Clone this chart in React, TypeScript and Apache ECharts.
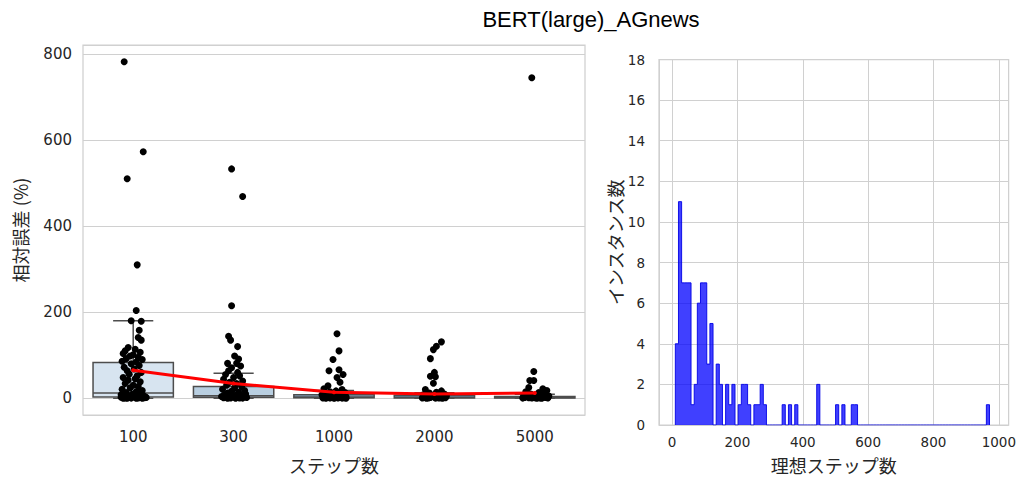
import React, { useEffect, useRef } from "react";
import * as echarts from "echarts";

// ---------- data ----------
const categories = ["100", "300", "1000", "2000", "5000"];
const boxLow = [0, 0, 0, 0, 0];
const boxQ1 = [3, 2, 1, 0.5, 0.3];
const boxMedian = [12, 6, 3, 2, 1.5];
const boxQ3 = [83, 27, 8, 7, 4];
const boxHigh = [180, 58, 18, 13, 9];
const meanValues = [65, 34, 14, 10, 12];

// [jitter (category units), relative error %]
const strip100 = [
  [-0.09, 782], [0.1, 573], [-0.06, 510], [0.04, 310], [0.03, 204], [-0.02, 180], [0.08, 179],
  [0.06, 158], [0.05, 141], [0.08, 135], [-0.05, 118], [0.02, 114], [-0.08, 110], [0.07, 107],
  [-0.1, 104], [0.0, 101], [-0.03, 98], [0.05, 95], [-0.07, 92], [0.09, 90], [-0.11, 86],
  [0.03, 84], [-0.02, 80], [0.06, 76], [-0.09, 72], [0.01, 68], [-0.06, 64], [0.08, 60],
  [-0.04, 56], [0.04, 52], [-0.1, 48], [0.02, 45], [-0.05, 42], [0.07, 38], [-0.08, 34],
  [0.0, 30], [0.05, 27], [-0.03, 24], [-0.11, 21], [0.09, 18], [0.03, 15], [-0.07, 13],
  [0.06, 11], [-0.01, 9], [-0.09, 7], [0.1, 6], [0.04, 5], [-0.05, 4], [0.01, 3], [-0.12, 2.5],
  [0.07, 2], [-0.03, 1.5], [0.11, 1], [-0.08, 0.8], [0.05, 0.5], [-0.02, 0.3], [0.09, 0.2],
  [-0.1, 0.1], [0.03, 0.1], [-0.06, 0.05], [0.12, 3.5], [-0.12, 8], [0.13, 1.8],
];
const strip300 = [
  [-0.02, 533], [0.09, 469], [-0.02, 215], [-0.05, 144], [-0.03, 135], [0.04, 120], [0.01, 98],
  [0.05, 91], [0.03, 81], [-0.06, 81], [0.07, 75], [-0.02, 71], [-0.05, 64], [0.04, 60],
  [-0.08, 55], [0.06, 52], [0.0, 48], [-0.1, 44], [0.09, 40], [-0.04, 37], [0.03, 34],
  [-0.07, 30], [0.08, 27], [0.01, 24], [-0.11, 21], [0.11, 18], [-0.02, 16], [0.05, 14],
  [-0.06, 12], [0.12, 10], [-0.09, 8], [0.02, 7], [0.07, 6], [-0.04, 5], [-0.12, 4], [0.1, 3.5],
  [0.0, 3], [-0.07, 2.5], [0.04, 2], [0.13, 1.5], [-0.1, 1], [0.06, 0.8], [-0.03, 0.5],
  [0.09, 0.3], [-0.06, 0.2], [0.02, 0.1],
];
const strip1000 = [
  [0.03, 150], [0.05, 110], [-0.01, 90], [-0.05, 64], [0.05, 66], [0.09, 55], [0.03, 48],
  [-0.06, 29], [0.06, 37], [-0.1, 22], [0.08, 20], [0.02, 17], [-0.04, 15], [0.11, 13],
  [-0.08, 11], [0.05, 9], [-0.12, 8], [0.0, 7], [0.09, 6], [-0.06, 5], [0.03, 4], [0.12, 3.5],
  [-0.1, 3], [-0.02, 2.5], [0.06, 2], [-0.07, 1.5], [0.1, 1.2], [0.01, 1], [-0.11, 0.8],
  [0.04, 0.6], [-0.04, 0.4], [0.08, 0.3], [-0.08, 0.2], [0.0, 0.1], [0.12, 0.1],
];
const strip2000 = [
  [0.07, 131], [0.02, 121], [-0.01, 113], [-0.04, 92], [0.0, 60], [-0.04, 51], [0.01, 50],
  [-0.01, 35], [-0.09, 20], [0.07, 17], [0.02, 14], [-0.05, 12], [0.1, 10], [-0.11, 8],
  [0.04, 7], [-0.02, 6], [0.12, 5], [-0.07, 4], [0.06, 3.5], [0.0, 3], [-0.1, 2.5], [0.09, 2],
  [-0.04, 1.5], [0.03, 1.2], [0.11, 1], [-0.12, 0.8], [-0.06, 0.6], [0.05, 0.4], [0.01, 0.3],
  [-0.08, 0.2], [0.08, 0.1],
];
const strip5000 = [
  [-0.03, 745], [-0.01, 62], [-0.01, 41], [-0.05, 41], [-0.06, 25], [0.08, 22], [0.12, 18],
  [-0.09, 15], [0.04, 13], [0.1, 11], [-0.04, 10], [0.01, 8], [-0.11, 7], [0.06, 6], [0.14, 5],
  [-0.07, 4], [0.03, 3.5], [-0.02, 3], [0.09, 2.5], [-0.1, 2], [0.11, 1.5], [0.0, 1.2],
  [-0.06, 1], [0.05, 0.8], [0.13, 0.5], [-0.03, 0.4], [-0.12, 0.3], [0.07, 0.2], [0.02, 0.1],
];
const strips = [strip100, strip300, strip1000, strip2000, strip5000];

// histogram of ideal steps: 100 bins between histMin and histMax
const histMin = 10;
const histMax = 971.5;
const histCounts = [
  4, 11, 7, 7, 7, 1, 2, 6, 7, 7,
  3, 5, 0, 3, 2, 0, 2, 1, 2, 0,
  1, 2, 2, 1, 0, 1, 1, 2, 1, 0,
  0, 0, 0, 0, 1, 0, 1, 0, 1, 0,
  0, 0, 0, 0, 0, 2, 0, 0, 0, 0,
  0, 1, 0, 1, 0, 0, 1, 1, 0, 0,
  0, 0, 0, 0, 0, 0, 0, 0, 0, 0,
  0, 0, 0, 0, 0, 0, 0, 0, 0, 0,
  0, 0, 0, 0, 0, 0, 0, 0, 0, 0,
  0, 0, 0, 0, 0, 0, 0, 0, 0, 1,
];

// ---------- styles ----------
const boxColors = ["#d7e4f0", "#b9cfe1", "#8fb3d3", "#6494bf", "#4074a8"];
const boxEdge = "#4d4d4d";
const textColor = "#262626";
const gridColor = "#d0d0d0";

export default function App() {
  const ref = useRef<HTMLDivElement>(null);

  useEffect(() => {
    if (!ref.current) return;
    const chart = echarts.init(ref.current, null, { renderer: "svg" });

    const binW = (histMax - histMin) / histCounts.length;
    const outline: number[][] = [[histMin, 0]];
    histCounts.forEach((c, i) => {
      outline.push([histMin + i * binW, c]);
      outline.push([histMin + (i + 1) * binW, c]);
    });
    outline.push([histMax, 0]);

    const boxData = categories.map((_, i) => [i, boxLow[i], boxQ1[i], boxMedian[i], boxQ3[i], boxHigh[i]]);
    const scatterData = strips.flatMap((pts, i) => pts.map(([j, v]) => [i + j, v]));

    const tickFont = "DejaVu Sans";
    const jpFont = "Noto Sans CJK JP";

    const option: any = {
      animation: false,
      backgroundColor: "#ffffff",
      title: {
        text: "BERT(large)_AGnews",
        left: 591,
        top: 8,
        textAlign: "center",
        padding: 0,
        textStyle: { fontFamily: "Liberation Sans", fontSize: 22, fontWeight: "normal", color: "#000" },
      },
      grid: [
        { left: 83, top: 45, width: 502, height: 372, show: true, borderColor: gridColor, borderWidth: 1.25, backgroundColor: "transparent" },
        { left: 659, top: 59.5, width: 353, height: 367, show: true, borderColor: gridColor, borderWidth: 1.25, backgroundColor: "transparent" },
      ],
      xAxis: [
        {
          type: "category",
          gridIndex: 0,
          data: categories,
          boundaryGap: true,
          axisLine: { show: false },
          axisTick: { show: false },
          splitLine: { show: false },
          axisLabel: { color: textColor, fontSize: 15, margin: 14, fontFamily: tickFont },
          name: "ステップ数",
          nameLocation: "middle",
          nameGap: 41,
          nameTextStyle: { fontSize: 18, color: textColor, fontFamily: jpFont },
        },
        { type: "value", gridIndex: 0, min: -0.5, max: 4.5, show: false },
        {
          type: "value",
          gridIndex: 1,
          min: -40,
          max: 1030,
          axisLine: { show: false },
          axisTick: { show: false },
          splitLine: { show: true, lineStyle: { color: gridColor, width: 1 } },
          axisLabel: {
            color: textColor, fontSize: 13.5, margin: 10, fontFamily: tickFont,
            showMinLabel: false, showMaxLabel: false,
            formatter: (v: number) => String(v),
          },
          name: "理想ステップ数",
          nameLocation: "middle",
          nameGap: 31,
          nameTextStyle: { fontSize: 18, color: textColor, fontFamily: jpFont },
        },
      ],
      yAxis: [
        {
          type: "value",
          gridIndex: 0,
          min: -39,
          max: 821,
          axisLine: { show: false },
          axisTick: { show: false },
          splitLine: { show: true, lineStyle: { color: gridColor, width: 1 } },
          axisLabel: { color: textColor, fontSize: 15, margin: 11, fontFamily: tickFont, showMinLabel: false, showMaxLabel: false },
          name: "相対誤差 (%)",
          nameLocation: "middle",
          nameRotate: 90,
          nameGap: 54,
          nameTextStyle: { fontSize: 18, color: textColor, fontFamily: jpFont },
        },
        {
          type: "value",
          gridIndex: 1,
          min: 0,
          max: 18,
          interval: 2,
          axisLine: { show: false },
          axisTick: { show: false },
          splitLine: { show: true, lineStyle: { color: gridColor, width: 1 } },
          axisLabel: { color: textColor, fontSize: 13.5, margin: 14, fontFamily: tickFont },
          name: "インスタンス数",
          nameLocation: "middle",
          nameRotate: 90,
          nameGap: 35,
          nameTextStyle: { fontSize: 18, color: textColor, fontFamily: jpFont },
        },
      ],
      series: [
        {
          type: "custom",
          xAxisIndex: 0,
          yAxisIndex: 0,
          data: boxData,
          encode: { x: 0, y: [1, 2, 3, 4, 5] },
          renderItem: (params: any, api: any) => {
            const idx = api.value(0);
            const band = api.size([1, 0])[0];
            const w = band * 0.8;
            const cx = api.coord([idx, api.value(3)])[0];
            const yLow = api.coord([idx, api.value(1)])[1];
            const yQ1 = api.coord([idx, api.value(2)])[1];
            const yMed = api.coord([idx, api.value(3)])[1];
            const yQ3 = api.coord([idx, api.value(4)])[1];
            const yHigh = api.coord([idx, api.value(5)])[1];
            const ls = { stroke: boxEdge, lineWidth: 1.5 };
            return {
              type: "group",
              children: [
                { type: "line", shape: { x1: cx, y1: yQ3, x2: cx, y2: yHigh }, style: ls },
                { type: "line", shape: { x1: cx, y1: yQ1, x2: cx, y2: yLow }, style: ls },
                { type: "line", shape: { x1: cx - w / 4, y1: yHigh, x2: cx + w / 4, y2: yHigh }, style: ls },
                { type: "line", shape: { x1: cx - w / 4, y1: yLow, x2: cx + w / 4, y2: yLow }, style: ls },
                {
                  type: "rect",
                  shape: { x: cx - w / 2, y: yQ3, width: w, height: Math.max(yQ1 - yQ3, 0.5) },
                  style: { fill: boxColors[idx], stroke: boxEdge, lineWidth: 1.5 },
                },
                { type: "line", shape: { x1: cx - w / 2, y1: yMed, x2: cx + w / 2, y2: yMed }, style: ls },
              ],
            };
          },
        },
        {
          type: "scatter",
          xAxisIndex: 1,
          yAxisIndex: 0,
          data: scatterData,
          symbolSize: 7,
          itemStyle: { color: "#000000", opacity: 1 },
        },
        {
          type: "line",
          xAxisIndex: 0,
          yAxisIndex: 0,
          data: meanValues,
          symbol: "circle",
          symbolSize: 4,
          lineStyle: { color: "#ff0000", width: 3 },
          itemStyle: { color: "#ff0000" },
        },
        {
          type: "line",
          xAxisIndex: 2,
          yAxisIndex: 1,
          data: outline,
          symbol: "none",
          lineStyle: { color: "rgba(0,0,230,0.9)", width: 1 },
          areaStyle: { color: "rgba(0,0,255,0.75)", opacity: 1 },
        },
      ],
    };

    chart.setOption(option);
    return () => chart.dispose();
  }, []);

  return <div ref={ref} style={{ position: "absolute", left: 0, top: 0, width: 1019, height: 479 }} />;
}
